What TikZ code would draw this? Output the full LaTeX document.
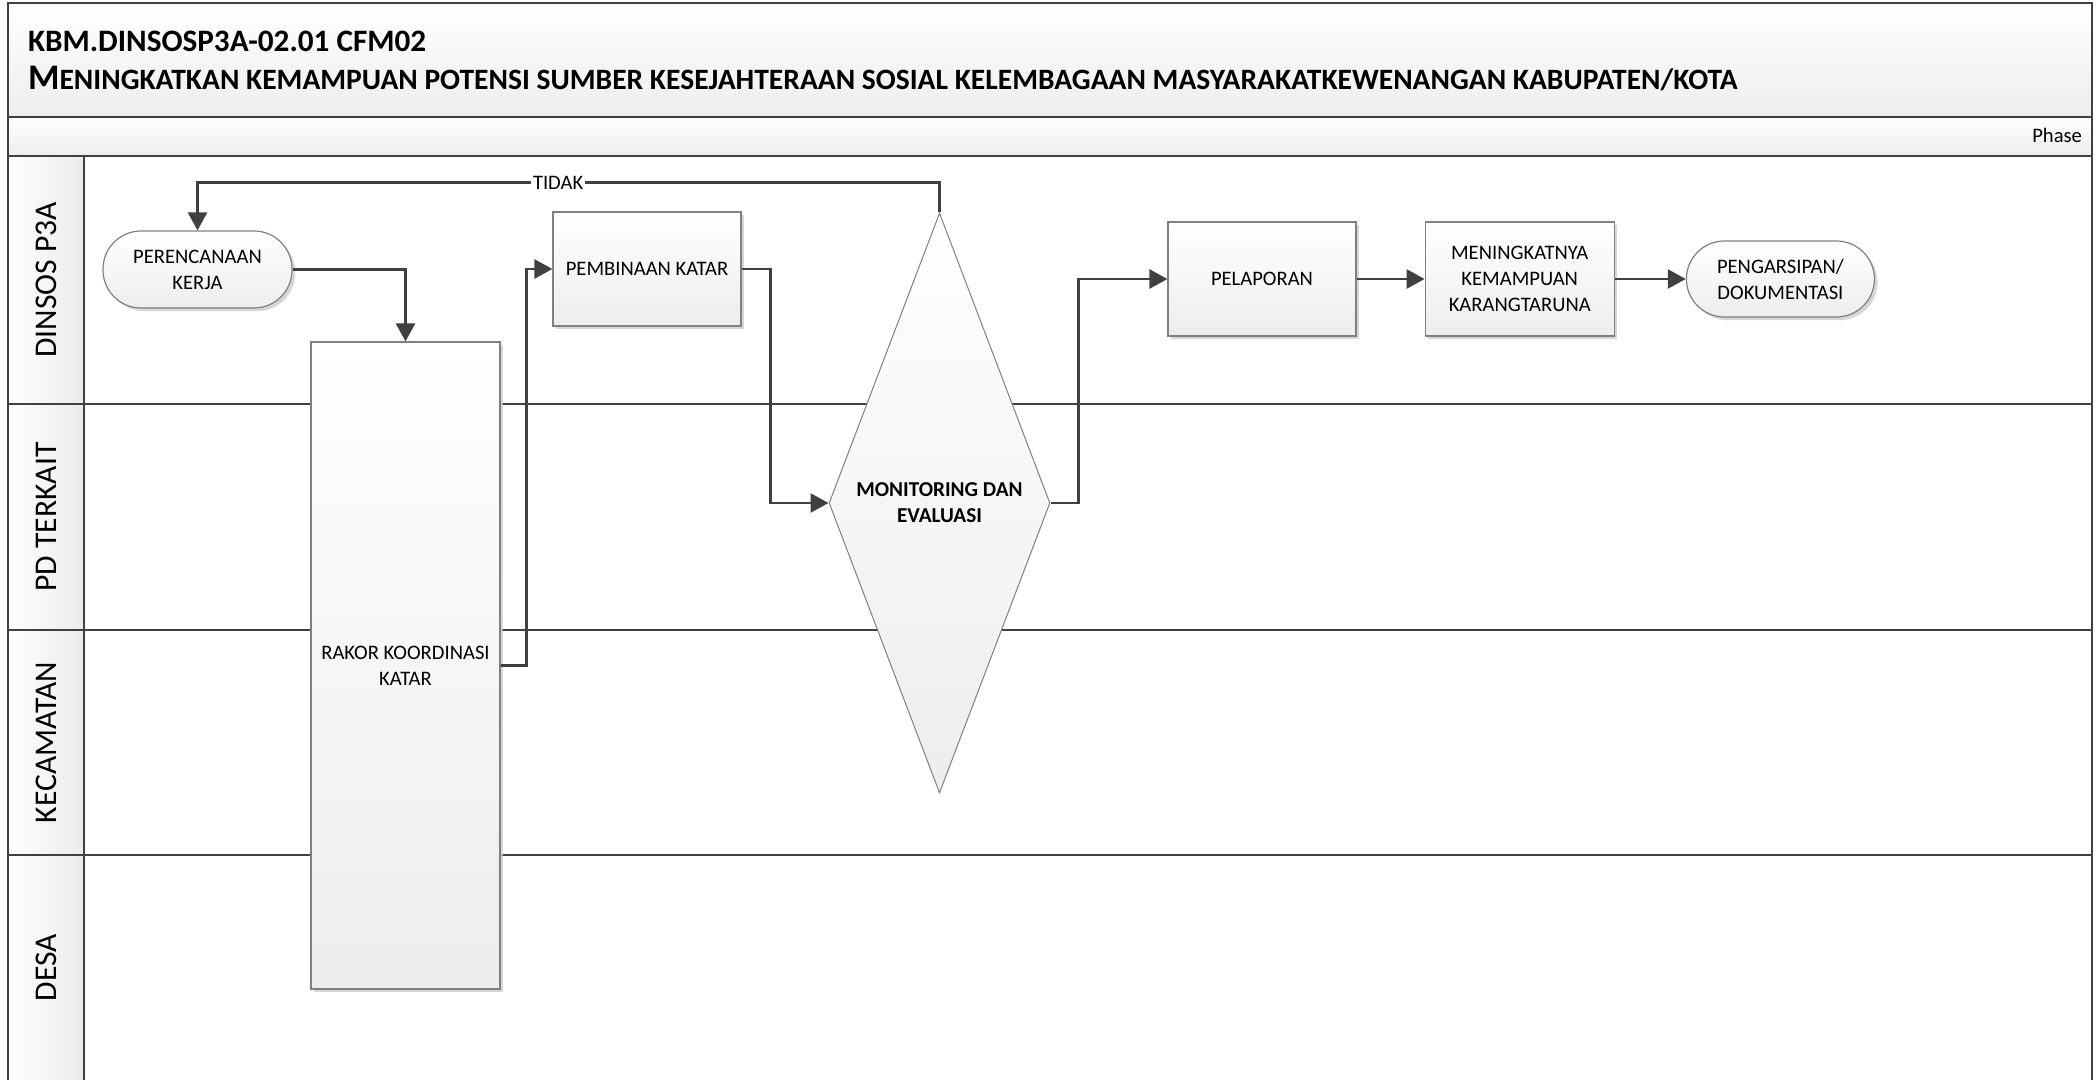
\documentclass[tikz,border=0pt]{standalone}
\usepackage{fontspec}
\setmainfont{Carlito}
\usepackage{tikz}
\usetikzlibrary{positioning,calc,shapes.geometric,arrows.meta,shadows}
\definecolor{linegray}{RGB}{64,64,64}
\definecolor{boxgray}{RGB}{128,128,128}

\begin{document}
\begin{tikzpicture}[
		x=0.5pt,y=-0.5pt,
		font=\fontsize{10.3}{13}\selectfont,
		proc/.style={draw=boxgray, line width=0.6pt, top color=white, bottom color=black!7, align=center, inner sep=2pt,
			drop shadow={shadow xshift=1.6pt, shadow yshift=-1.6pt, fill=black!20, opacity=0.8}},
		term/.style={proc, rounded corners=19pt},
		decide/.style={diamond, draw=boxgray, line width=0.5pt, top color=white, bottom color=black!7, align=center, inner sep=0pt,
			font=\fontsize{10.6}{13}\selectfont\bfseries},
		band/.style={draw=linegray, line width=1.2pt, top color=white, bottom color=black!7},
		lane/.style={draw=linegray, line width=1.2pt},
		lanelabel/.style={rotate=90, font=\fontsize{15.8}{18}\selectfont},
		flow/.style={draw=linegray, line width=1.3pt, -{Triangle[length=9pt,width=9.5pt]}}
		]
		\useasboundingbox (0,0) rectangle (2096,1080);
		
		% ====== HEADER ======
		\draw[band] (8,3) rectangle (2092,117);
		\draw[band] (8,117) rectangle (2092,156);
		\node[anchor=base west, font=\fontsize{15.6}{18}\selectfont\bfseries] (kode) at (21,52)
		{KBM.DINSOSP3A-02.01 CFM02};
		\node[anchor=base west, font=\bfseries] (judul) at (21,90)
		{{\fontsize{18}{20}\selectfont M}{\fontsize{14.77}{17}\selectfont ENINGKATKAN KEMAMPUAN POTENSI SUMBER KESEJAHTERAAN SOSIAL KELEMBAGAAN MASYARAKATKEWENANGAN KABUPATEN/KOTA}};
		\node[anchor=base east] (fase) at (2089,143) {Phase};
		
		% ====== LANES ======
		\fill[left color=white, right color=black!8] (8,156) rectangle (84,1090);
		\foreach \ytop/\ybot/\lname [count=\i] in {156/404/DINSOS P3A, 404/630/PD TERKAIT, 630/855/KECAMATAN, 855/1080/DESA}{
			\draw[lane] (8,\ytop) -- (2092,\ytop);
			\node[lanelabel] (lane\i) at (46,{(\ytop+\ybot)/2}) {\lname};
		}
		\draw[lane] (8,3) -- (8,1090);
		\draw[lane] (84,156) -- (84,1090);
		\draw[lane] (2092,3) -- (2092,1090);
		
		% ====== STEPS ======
		\node[term, minimum width=94.5pt, minimum height=38.5pt] (rencana) at (197.5,269.5) {PERENCANAAN\\KERJA};
		\node[proc, minimum width=94.5pt, minimum height=323.5pt] (rakor) at (405.5,665.5) {RAKOR KOORDINASI\\KATAR};
		\node[proc, minimum width=94pt, minimum height=57pt] (bina) at (647,269) {PEMBINAAN KATAR};
		\node[decide, minimum width=110.5pt, minimum height=290pt] (monev) at (939.5,503) {MONITORING DAN\\EVALUASI};
		\node[proc, minimum width=94pt, minimum height=57pt] (lapor) at (1262,279) {PELAPORAN};
		\node[proc, minimum width=94.5pt, minimum height=57pt, right=34pt of lapor] (naik) {MENINGKATNYA\\KEMAMPUAN\\KARANGTARUNA};
		\node[term, minimum width=94pt, minimum height=38pt, inner sep=1pt, right=35.5pt of naik] (arsip) {PENGARSIPAN/\\DOKUMENTASI};
		
		% ====== CONNECTORS ======
		\draw[flow] (rencana.east) -| (rakor.north);
		\draw[flow] (rakor.east) -- ++(26,0) |- (bina.west);
		\draw[flow] (bina.east) -- ++(29,0) |- (monev.west);
		\draw[flow] (monev.east) -- ++(28,0) |- (lapor.west);
		\draw[flow] (lapor) -- (naik);
		\draw[flow] (naik) -- (arsip);
		\draw[flow] (monev.north) -- ++(0,-30) -| node[pos=0.257, fill=white, inner sep=1pt] (tidak) {TIDAK} (rencana.north);
		
\end{tikzpicture}
\end{document}
